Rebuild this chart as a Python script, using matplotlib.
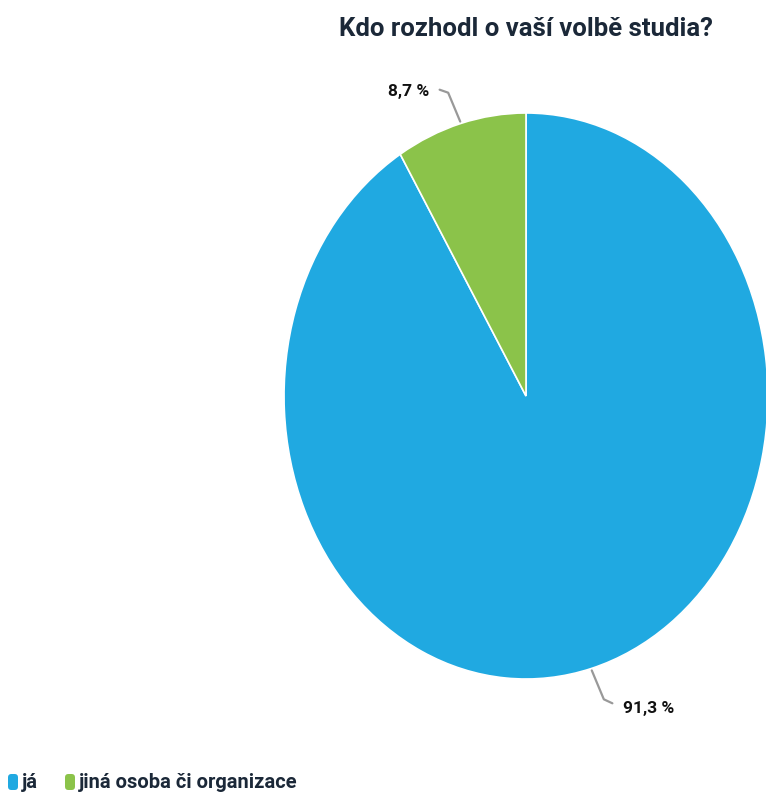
import numpy as np
import matplotlib
matplotlib.use("Agg")
import matplotlib.pyplot as plt
from matplotlib.patches import FancyBboxPatch

title = "Kdo rozhodl o vaší volbě studia?"
categories = ["já", "jiná osoba či organizace"]
values = [91.3, 8.7]
labels = ["91,3 %", "8,7 %"]
colors = ["#20A9E1", "#8BC34A"]

W, H = 766, 796
S = 0.855  # horizontal squeeze of the reference picture
fig = plt.figure(figsize=(W / 100, H / 100), dpi=100)
ax = fig.add_axes([0, 0, 1, 1])

fam = ["Roboto", "DejaVu Sans"]
cx, cy, r = 526 / S, 400, 283
wedges, _ = ax.pie(values, colors=colors, startangle=90, counterclock=False,
                   center=(cx, cy), radius=r, frame=True,
                   wedgeprops=dict(edgecolor="white", linewidth=1.2))
ax.set_aspect("auto")
ax.set_xlim(0, W / S)
ax.set_ylim(0, H)
ax.axis("off")

# leader lines + labels
for w, lab in zip(wedges, labels):
    ang = np.deg2rad((w.theta1 + w.theta2) / 2)
    dx, dy = np.cos(ang), np.sin(ang)
    p0 = (cx + (r + 2) * dx, cy + (r + 2) * dy)
    p1 = (cx + (r + 32) * dx - 6 * np.sign(dy), cy + (r + 32) * dy)
    sgn = 1 if dx >= 0 else -1
    p2 = (p1[0] + 10 * sgn, p1[1] + (-4 if dy < 0 else 3))
    ax.plot([p0[0], p1[0], p2[0]], [p0[1], p1[1], p2[1]], color="#999999", lw=1.6,
            solid_capstyle="round")
    ax.text(p2[0] + (12 if sgn > 0 else -12), p2[1] - (5 if dy < 0 else 2), lab,
            ha="left" if sgn > 0 else "right", va="center",
            fontsize=12.5, fontweight="bold", family=fam, color="#111111")

ax.text(526 / S, 767, title, ha="center", va="center", fontsize=18.5, fontweight="bold",
        family=fam, color="#1B2838")

# legend
lx, ly = 8 / S, 14
for c, cat in zip(colors, categories):
    box = FancyBboxPatch((lx, ly - 8), 10 / S, 16, boxstyle="round,pad=0,rounding_size=4",
                         facecolor=c, edgecolor="none", mutation_aspect=S)
    ax.add_patch(box)
    t = ax.text(lx + 14 / S, ly, cat, ha="left", va="center", fontsize=14.5, fontweight="bold",
                family=fam, color="#1B2838")
    fig.canvas.draw()
    bb = t.get_window_extent()
    lx = (bb.x1 + 27) / S

fig.savefig("out.png", dpi=100)
